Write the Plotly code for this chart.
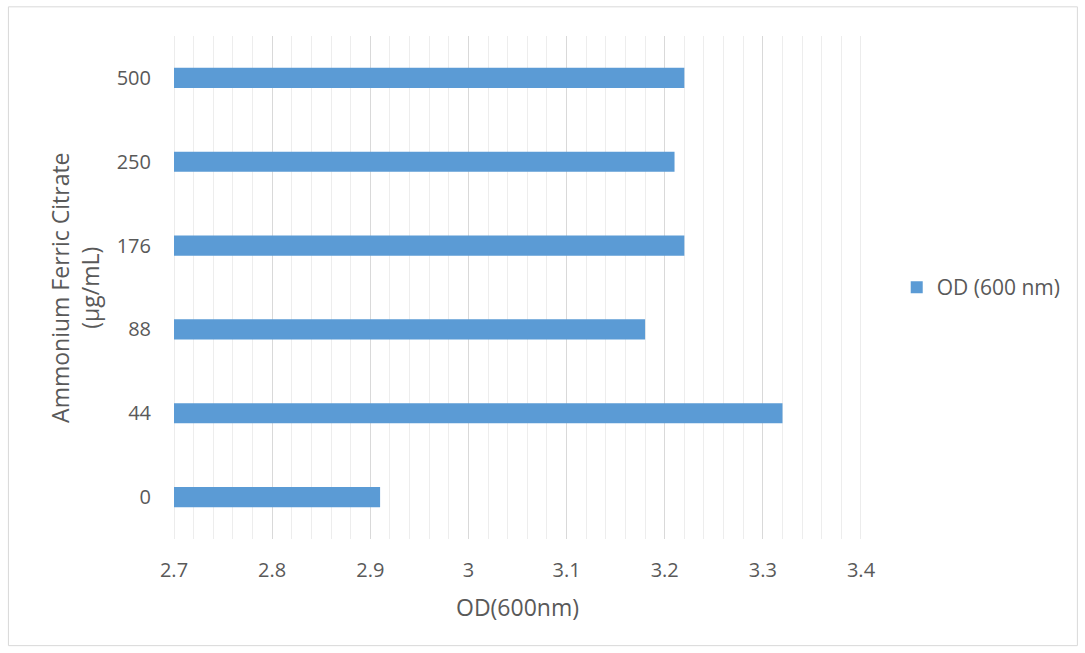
import plotly.graph_objects as go

# Ammonium ferric citrate concentrations (µg/mL) and measured OD at 600 nm
concentrations = ["0", "44", "88", "176", "250", "500"]
od_600 = [2.91, 3.32, 3.18, 3.22, 3.21, 3.22]
x_ticks = [2.7, 2.8, 2.9, 3.0, 3.1, 3.2, 3.3, 3.4]
x_tick_labels = ["2.7", "2.8", "2.9", "3", "3.1", "3.2", "3.3", "3.4"]
x_range = [2.7, 3.4]

FONT = "'Open Sans', 'Segoe UI', sans-serif"
GREY = "#595959"
MAJOR_GRID = "#d9d9d9"

fig = go.Figure()
fig.add_trace(go.Bar(
    y=concentrations,
    x=od_600,
    orientation="h",
    name="OD (600 nm)",
    marker=dict(color="#5b9bd5", line=dict(width=0)),
    width=0.24,
))

# major gridlines at the two ends of the value axis
edge_lines = [
    dict(type="line", xref="x", yref="paper", x0=v, x1=v, y0=0, y1=1,
         line=dict(color=MAJOR_GRID, width=1), layer="below")
    for v in x_range
]

fig.update_layout(
    width=1085,
    height=653,
    margin=dict(l=174, r=224, t=36, b=114),
    paper_bgcolor="white",
    plot_bgcolor="white",
    font=dict(family=FONT, size=20, color=GREY),
    showlegend=True,
    legend=dict(
        x=1.052, y=0.5, xanchor="left", yanchor="middle",
        font=dict(family=FONT, size=21, color=GREY),
        itemwidth=30,
    ),
    xaxis=dict(
        range=x_range,
        tickvals=x_ticks,
        ticktext=x_tick_labels,
        showgrid=True,
        gridcolor=MAJOR_GRID,
        gridwidth=1,
        zeroline=False,
        showline=False,
        ticks="",
        ticklabelstandoff=17,
        tickfont=dict(size=20, color=GREY),
        minor=dict(dtick=0.02, tick0=2.7, showgrid=True, gridcolor="#ededed", gridwidth=1),
    ),
    yaxis=dict(
        categoryorder="array",
        categoryarray=concentrations,
        showgrid=False,
        zeroline=False,
        showline=False,
        ticks="",
        ticklabelstandoff=22,
        tickfont=dict(size=20, color=GREY),
    ),
    annotations=[
        dict(
            text="OD(600nm)", xref="paper", yref="paper",
            x=0.5, y=-0.136, xanchor="center", yanchor="middle",
            showarrow=False, font=dict(family=FONT, size=23, color=GREY),
        ),
        dict(
            text="Ammonium Ferric Citrate<br>(µg/mL)", xref="paper", yref="paper",
            x=-0.145, y=0.5, xanchor="center", yanchor="middle",
            textangle=-90, showarrow=False,
            font=dict(family=FONT, size=23, color=GREY),
        ),
    ],
    shapes=edge_lines + [
        dict(
            type="rect", xref="paper", yref="paper",
            x0=-0.241, x1=1.315, y0=-0.212, y1=1.058,
            line=dict(color="#d9d9d9", width=1), fillcolor="rgba(0,0,0,0)",
            layer="below",
        ),
    ],
)

fig.write_html("out.html")
